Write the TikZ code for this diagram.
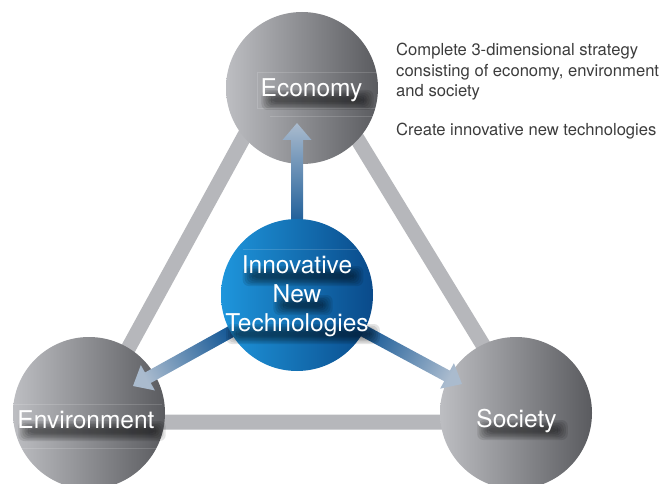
\documentclass[tikz,border=0pt]{standalone}
\usepackage{fontspec}
\setmainfont{TeX Gyre Heros}
\usetikzlibrary{calc}
\definecolor{barGray}{HTML}{B6B7BB}
\definecolor{ballLight}{HTML}{BDBEC2}
\definecolor{ballDark}{HTML}{5A5B5F}
\definecolor{blueLight}{HTML}{1E96DC}
\definecolor{blueDark}{HTML}{0A4A8A}
\definecolor{arrDark}{HTML}{1B5C98}
\definecolor{arrLight}{HTML}{AABBCE}
\definecolor{noteText}{HTML}{3C3C3C}
\newcommand\bigfont{\fontsize{24.5}{29}\selectfont}
\newcommand\notefont{\fontsize{16.6}{20.5}\selectfont}
\pgfdeclarelayer{shadowlayer}
\pgfdeclarelayer{front}
\pgfsetlayers{main,shadowlayer,front}
\newcommand\techarrow[3]{%
  \shade[top color=arrLight, bottom color=arrDark, shading angle=#3]
    ($(#1)!70pt!(#2)!6pt!90:(#2)$) --
    ($(#2)!17pt!(#1)!6pt!-90:(#1)$) --
    ($(#2)!17pt!(#1)!14.5pt!-90:(#1)$) --
    (#2) --
    ($(#2)!17pt!(#1)!14.5pt!90:(#1)$) --
    ($(#2)!17pt!(#1)!6pt!90:(#1)$) --
    ($(#1)!70pt!(#2)!6pt!-90:(#2)$) -- cycle;}
\newcommand\softshadow[1]{%
  \foreach \k in {0,...,5}{%
    \fill[textshadow] ($(#1.base west)+(1+2*\k,-7+1.5*\k)$) rectangle ($(#1.base east)+(11-2*\k,13-1.5*\k)$);}}
\begin{document}
\begin{tikzpicture}[x=1pt,y=-1pt,
  bar/.style={draw=barGray, line width=15pt, line join=round},
  ball/.style={circle, inner sep=0pt, minimum size=#1, left color=ballLight, right color=ballDark},
  blueball/.style={circle, inner sep=0pt, minimum size=#1, left color=blueLight, right color=blueDark},
  lbl/.style={text=white, font=\bigfont, anchor=base, inner sep=0pt},
  textshadow/.style={black, opacity=0.1, rounded corners=6pt},
  note/.style={text=noteText, font=\notefont, anchor=base west, inner sep=0pt},
  faint/.style={draw=white, opacity=0.15, line width=0.6pt}]
\useasboundingbox (0,0) rectangle (664,484);
\clip (0,0) rectangle (664,484);

% triangle of bars
\coordinate (apex) at (297,40);
\coordinate (bl) at (88,422);
\coordinate (br) at (530,422);
\draw[bar] (apex) -- (bl) -- (br) -- cycle;

% gray balls
\node[ball=152pt] (econ) at (302,88) {};
\node[ball=152pt] (env) at (89,413) {};
\node[ball=152pt] (soc) at (516,413) {};

% faint guide lines
\draw[faint] (377,72) -- (257,72) -- (257,108) -- (377,108);
\draw[faint] (270,116) -- (376,116);
\draw[faint] (14,404) -- (162,404);
\draw[faint] (18,448) -- (160,448);

% arrows
\coordinate (inno-c) at (297,295);
\coordinate (tipEcon) at (297,123);
\coordinate (tipEnv) at (133,386);
\coordinate (tipSoc) at (462,384);
\techarrow{inno-c}{tipEcon}{0}
\techarrow{inno-c}{tipEnv}{119}
\techarrow{inno-c}{tipSoc}{-118.3}

% central ball
\node[blueball=152pt] (inno) at (inno-c) {};
\draw[faint] (243,249) -- (357,249);

% labels
\begin{pgfonlayer}{front}
\node[lbl] (econ-t) at (311.5,97) {Economy};
\node[lbl] (env-t) at (86,428) {Environment};
\node[lbl] (soc-t) at (516.5,427) {Society};
\node[lbl] (inno-ta) at (297,273) {Innovative};
\node[lbl] (inno-tb) at (297,302) {New};
\node[lbl] (inno-tc) at (297,331) {Technologies};
\end{pgfonlayer}

% soft shadows beneath the labels
\begin{pgfonlayer}{shadowlayer}
\softshadow{econ-t}
\softshadow{env-t}
\softshadow{soc-t}
\softshadow{inno-ta}
\softshadow{inno-tb}
\softshadow{inno-tc}
\end{pgfonlayer}

% notes
\node[note] (n1) at (396,56) {Complete 3-dimensional strategy};
\node[note] (n2) at (396,76.5) {consisting of economy, environment};
\node[note] (n3) at (396,97) {and society};
\node[note] (n4) at (396,136) {Create innovative new technologies};
\end{tikzpicture}
\end{document}
